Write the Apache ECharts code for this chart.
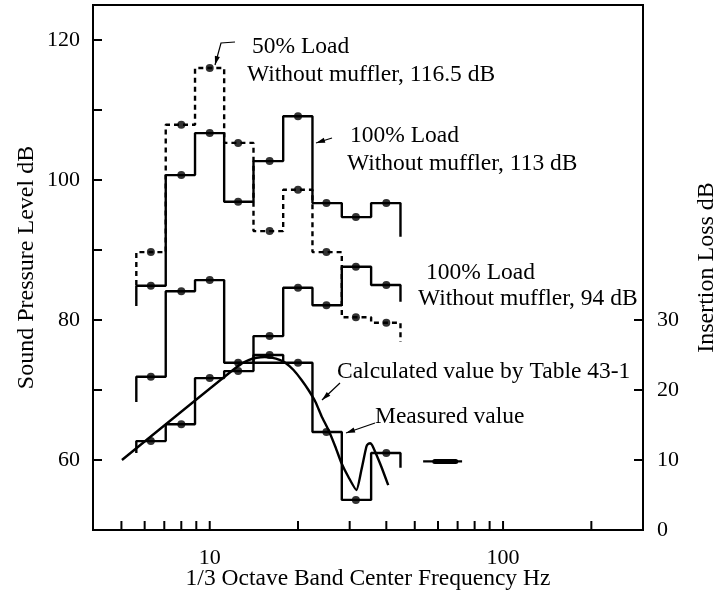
<!DOCTYPE html>
<html><head><meta charset="utf-8">
<script src="https://cdn.jsdelivr.net/npm/echarts@6/dist/echarts.min.js"></script>
<style>html,body{margin:0;padding:0;background:#fff}#c{width:722px;height:604px}</style>
</head><body><div id="c"></div>
<script>
// ---- data ----
const bandCenters = [6.3, 8, 10, 12.5, 16, 20, 25, 31.5, 40];
const bandEdges = [5.62, 7.08, 8.91, 11.2, 14.1, 17.8, 22.4, 28.2, 35.5, 44.7];
const load50 = [89.7, 107.9, 116.0, 105.3, 92.7, 98.6, 89.7, 80.4, 79.6];
const load50Tails = [85.0, 76.9];
const load100High = [84.9, 100.7, 106.7, 96.9, 102.7, 109.1, 96.7, 94.7, 96.7];
const load100HighTails = [82.0, 91.9];
const load100Low = [71.9, 84.1, 85.7, 73.9, 77.7, 84.6, 82.1, 87.6, 85.0];
const load100LowTails = [68.3, 82.6];
const measuredIL = [12.7, 15.1, 21.7, 22.7, 25.0, 23.9, 14.0, 4.3, 11.0];
const measuredILTails = [11.0, 8.9];
const measuredExtraBand = 4;
const measuredExtraIL = 23.9;
const calcFreq = [5.02, 12.55, 13.57, 14.45, 15.39, 16.38, 17.30, 18.14, 19.31, 20.56, 21.71, 22.94, 24.04, 25.40, 26.83, 28.12, 29.71, 31.62, 32.9, 34.2, 34.7, 35.3, 35.8, 36.7, 38.5, 40.6];
const calcIL = [10.0, 23.5, 24.27, 24.6, 24.71, 24.59, 24.29, 23.86, 22.86, 21.43, 20.0, 18.29, 16.29, 14.29, 11.86, 9.57, 7.57, 5.71, 8.6, 11.9, 12.3, 12.4, 12.1, 11.1, 9.0, 6.4];
const blobFreq = [53.4, 72.5];
const blobThickFreq = [58.5, 69];
const blobIL = 9.8;
const xTickValues = [5, 6, 7, 8, 9, 10, 20, 30, 40, 50, 60, 70, 80, 90, 100, 200];
const xLabelValues = [10, 100];
const splLabelValues = [60, 80, 100, 120];
const ilLabelValues = [0, 10, 20, 30];
const ilTickValues = [10, 20, 30];

// ---- helpers ----
const FONT = '"Liberation Serif", "Times New Roman", serif';
function steps(vals, tails) {
  const p = [[bandEdges[0], tails[0]]];
  vals.forEach((v, i) => { p.push([bandEdges[i], v]); p.push([bandEdges[i + 1], v]); });
  p.push([bandEdges[vals.length], tails[1]]);
  return p;
}
function dots(vals) { return bandCenters.map((c, i) => [c, vals[i]]); }
function near(v, list) { return list.some(t => Math.abs(v - t) < 1e-6 * Math.max(1, t)); }

const LW = 2.4;
const solid = { color: '#000', width: LW };
const stepSeries = (data, yIdx, dashed) => ({
  type: 'line', data, yAxisIndex: yIdx, symbol: 'none', silent: true,
  lineStyle: dashed ? { color: '#000', width: LW, type: [5, 4] } : solid
});
const dotSeries = (data, yIdx) => ({
  type: 'scatter', data, yAxisIndex: yIdx, symbol: 'circle', symbolSize: 8,
  itemStyle: { color: '#000' }, silent: true
});

function arrow(points) {
  const n = points.length;
  const [x1, y1] = points[n - 2], [x2, y2] = points[n - 1];
  const a = Math.atan2(y2 - y1, x2 - x1), L = 9, W = 2.6;
  const bx = x2 - L * Math.cos(a), by = y2 - L * Math.sin(a);
  const px = -Math.sin(a) * W, py = Math.cos(a) * W;
  return [
    { type: 'polyline', shape: { points }, style: { stroke: '#000', lineWidth: 1.2, fill: null } },
    { type: 'polygon', shape: { points: [[x2, y2], [bx + px, by + py], [bx - px, by - py]] }, style: { fill: '#000' } }
  ];
}
function txt(text, x, y) {
  return { type: 'text', x, y, style: { text, fill: '#000', font: '23.5px ' + FONT, align: 'left', verticalAlign: 'middle' } };
}

const chart = echarts.init(document.getElementById('c'), null, { renderer: 'canvas' });
const option = {
  animation: false,
  backgroundColor: '#fff',
  grid: { left: 93, right: 79, top: 5, bottom: 74, containLabel: false, outerBoundsMode: 'none',
    show: true, borderColor: '#000', borderWidth: 2 },
  xAxis: {
    type: 'log', logBase: 10, min: 4, max: 300,
    name: '1/3 Octave Band Center Frequency Hz', nameLocation: 'middle', nameGap: 37, nameMoveOverlap: false,
    nameTextStyle: { fontFamily: FONT, fontSize: 23.5, color: '#000' },
    axisLine: { show: true, lineStyle: { color: '#000', width: 2 } },
    axisTick: { show: false }, minorTick: { show: false }, splitLine: { show: false }, minorSplitLine: { show: false },
    axisLabel: { fontFamily: FONT, fontSize: 22, color: '#000', margin: 17,
      formatter: v => near(v, xLabelValues) ? String(Math.round(v)) : '' }
  },
  yAxis: [{
    type: 'value', min: 50, max: 125, interval: 10, position: 'left',
    name: 'Sound Pressure Level dB', nameLocation: 'middle', nameGap: 54, nameRotate: 90, nameMoveOverlap: false,
    nameTextStyle: { fontFamily: FONT, fontSize: 24, color: '#000' },
    axisLine: { show: true, lineStyle: { color: '#000', width: 2 } },
    axisTick: { show: true, inside: true, length: 9, lineStyle: { color: '#000', width: 2 } },
    splitLine: { show: false },
    axisLabel: { fontFamily: FONT, fontSize: 22, color: '#000', margin: 13,
      formatter: v => near(v, splLabelValues) ? String(v) : '' }
  }, {
    type: 'value', min: 0, max: 75, interval: 10, position: 'right',
    name: 'Insertion Loss dB', nameLocation: 'middle', nameGap: 52, nameRotate: 90, nameMoveOverlap: false,
    nameTextStyle: { fontFamily: FONT, fontSize: 24, color: '#000' },
    axisLine: { show: true, lineStyle: { color: '#000', width: 2 } },
    axisTick: { show: false }, splitLine: { show: false },
    axisLabel: { fontFamily: FONT, fontSize: 22, color: '#000', margin: 14,
      formatter: v => near(v, ilLabelValues) ? String(v) : '' }
  }],
  series: [
    stepSeries(steps(load50, load50Tails), 0, true),
    dotSeries(dots(load50), 0),
    stepSeries(steps(load100High, load100HighTails), 0, false),
    dotSeries(dots(load100High), 0),
    stepSeries(steps(load100Low, load100LowTails), 0, false),
    dotSeries(dots(load100Low), 0),
    stepSeries(steps(measuredIL, measuredILTails), 1, false),
    stepSeries([[bandEdges[measuredExtraBand], measuredExtraIL], [bandEdges[measuredExtraBand + 1], measuredExtraIL]], 1, false),
    dotSeries(dots(measuredIL), 1),
    { type: 'line', yAxisIndex: 1, data: calcFreq.map((f, i) => [f, calcIL[i]]), symbol: 'none', smooth: 0.2, lineStyle: solid, silent: true },
    { type: 'line', yAxisIndex: 1, data: blobFreq.map(f => [f, blobIL]), symbol: 'none', lineStyle: solid, silent: true },
    { type: 'line', yAxisIndex: 1, data: blobThickFreq.map(f => [f, blobIL]), symbol: 'none', lineStyle: { color: '#000', width: 5, cap: 'round' }, silent: true },
    { type: 'custom', yAxisIndex: 0, clip: false, silent: true, data: xTickValues.map(v => [v, 50]),
      renderItem: (params, api) => {
        const p = api.coord([api.value(0), api.value(1)]);
        return { type: 'line', shape: { x1: p[0], y1: p[1], x2: p[0], y2: p[1] - 9 }, style: { stroke: '#000', lineWidth: 2 } };
      } },
    { type: 'custom', yAxisIndex: 1, clip: false, silent: true, data: ilTickValues.map(v => [300, v]),
      renderItem: (params, api) => {
        const p = api.coord([api.value(0), api.value(1)]);
        return { type: 'line', shape: { x1: p[0], y1: p[1], x2: p[0] - 9, y2: p[1] }, style: { stroke: '#000', lineWidth: 2 } };
      } }
  ],
  graphic: [
    txt('50% Load', 252, 47),
    txt('Without muffler, 116.5 dB', 247, 75),
    txt('100% Load', 350, 136),
    txt('Without muffler, 113 dB', 347, 164),
    txt('100% Load', 426, 273),
    txt('Without muffler, 94 dB', 418, 299),
    txt('Calculated value by Table 43-1', 337, 372),
    txt('Measured value', 375, 417),
    ...arrow([[235, 42], [221, 43], [215, 65]]),
    ...arrow([[332, 138], [316, 143]]),
    ...arrow([[340, 383], [322, 400]]),
    ...arrow([[375, 423], [346, 433]])
  ]
};
chart.setOption(option);
</script></body></html>
